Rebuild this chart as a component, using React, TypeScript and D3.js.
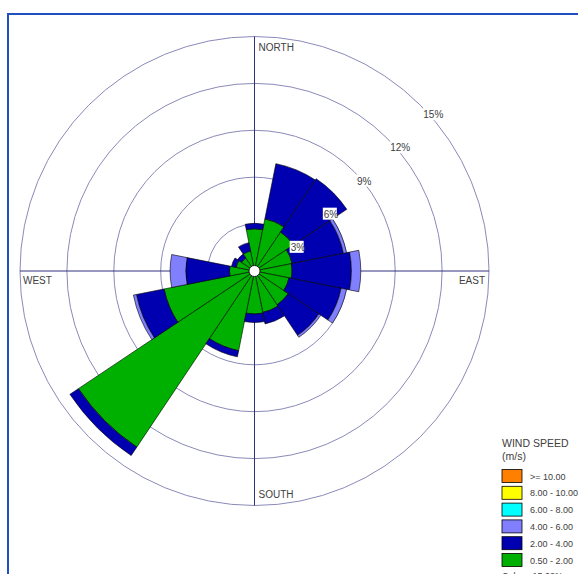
import React from "react";
import * as d3 from "d3";

// 16 compass sectors, clockwise from north
const directions = ["N", "NNE", "NE", "ENE", "E", "ESE", "SE", "SSE", "S", "SSW", "SW", "WSW", "W", "WNW", "NW", "NNW"];
// frequency (%) per speed class
const speed05to2 = [2.7, 3.4, 3.0, 2.45, 2.4, 2.25, 2.6, 2.7, 2.75, 5.2, 13.55, 5.9, 1.6, 1.2, 1.0, 1.3];
const speed2to4 = [0.35, 3.6, 4.1, 3.35, 3.8, 3.4, 2.35, 0.75, 0.55, 0.4, 0.65, 1.8, 2.8, 0.3, 0.3, 0.55];
const speed4to6 = [0, 0, 0, 0.2, 0.6, 0.35, 0.15, 0, 0, 0, 0, 0.2, 1.0, 0, 0, 0];
const speed6to8 = [0, 0, 0, 0, 0, 0, 0, 0, 0, 0, 0, 0, 0, 0, 0, 0];
const speed8to10 = [0, 0, 0, 0, 0, 0, 0, 0, 0, 0, 0, 0, 0, 0, 0, 0];
const speed10up = [0, 0, 0, 0, 0, 0, 0, 0, 0, 0, 0, 0, 0, 0, 0, 0];

const ringTicks = [3, 6, 9, 12, 15];
const legendLabels = [">= 10.00", "8.00 - 10.00", "6.00 - 8.00", "4.00 - 6.00", "2.00 - 4.00", "0.50 - 2.00"];
const legendColors = ["#ff8000", "#ffff00", "#00ffff", "#8080ff", "#0000b0", "#00b000"];
const calmsLabel = "Calms: 15.02%";

export default function App() {
  const width = 578;
  const height = 574;
  const cx = 254.5;
  const cy = 271;

  const r = d3.scaleLinear().domain([0, 15]).range([0, 234.5]);
  const step = (2 * Math.PI) / directions.length;

  // inner-to-outer order of the stack
  const series = [speed05to2, speed2to4, speed4to6, speed6to8, speed8to10, speed10up];
  const colors = ["#00b000", "#0000b0", "#8080ff", "#00ffff", "#ffff00", "#ff8000"];

  const rows = directions.map((d, i) => {
    const row: any = { dir: d };
    series.forEach((s, k) => (row["k" + k] = s[i]));
    return row;
  });
  const stack = d3.stack().keys(series.map((_, k) => "k" + k))(rows);

  const arc = d3.arc();

  const font = "Arial, 'Liberation Sans', sans-serif";
  const textColor = "#404040";

  return (
    <svg width={width} height={height} style={{ position: "absolute", left: 0, top: 0, background: "#fff" }}>
      {/* frame */}
      <rect x={8} y={14} width={width + 20} height={height + 20} fill="#fff" stroke="#2050c0" strokeWidth={2} />

      <g transform={`translate(${cx},${cy})`}>
        {ringTicks.map((t) => (
          <circle key={t} r={r(t)} fill="none" stroke="#8a8ab8" strokeWidth={1} />
        ))}
        <line x1={0} x2={0} y1={-r(15)} y2={r(15)} stroke="#303080" strokeWidth={1} />
        <line x1={-r(15)} x2={r(15)} y1={0} y2={0} stroke="#303080" strokeWidth={1} />

        {stack.map((layer, k) =>
          layer.map((seg, i) => {
            if (seg[1] - seg[0] <= 0) return null;
            const a = i * step;
            const path = arc({
              innerRadius: r(seg[0]),
              outerRadius: r(seg[1]),
              startAngle: a - step / 2,
              endAngle: a + step / 2,
            } as any);
            return <path key={k + "-" + i} d={path || ""} fill={colors[k]} stroke="#000" strokeWidth={0.6} />;
          })
        )}

        <circle r={5.5} fill="#fff" stroke="#000" strokeWidth={0.8} />

        {ringTicks.map((t) => {
          const x = r(t) * Math.SQRT1_2 + 3;
          const y = -r(t) * Math.SQRT1_2 + 13;
          const label = t + "%";
          const w = label.length * 6 + 2;
          return (
            <g key={"l" + t}>
              <rect x={x - 1} y={y - 10} width={w} height={12} fill="#fff" />
              <text x={x} y={y} fontSize={10} fontFamily={font} fill={textColor}>
                {label}
              </text>
            </g>
          );
        })}
      </g>

      {/* compass labels */}
      <text x={cx + 4} y={cy - r(15) + 14} fontSize={10} fontFamily={font} fill={textColor}>NORTH</text>
      <text x={cx + 4} y={cy + r(15) - 8} fontSize={10} fontFamily={font} fill={textColor}>SOUTH</text>
      <text x={cx - r(15) + 3} y={cy + 13} fontSize={10} fontFamily={font} fill={textColor}>WEST</text>
      <text x={cx + r(15) - 4} y={cy + 13} fontSize={10} fontFamily={font} fill={textColor} textAnchor="end">EAST</text>

      {/* legend */}
      <g fontFamily={font} fill={textColor}>
        <text x={502} y={447} fontSize={10.5}>WIND SPEED</text>
        <text x={502} y={460} fontSize={10.5}>(m/s)</text>
        {legendLabels.map((lab, i) => (
          <g key={lab} transform={`translate(502,${469.5 + i * 16.8})`}>
            <rect width={20} height={13} fill={legendColors[i]} stroke="#000" strokeWidth={0.8} />
            <text x={28} y={10} fontSize={9}>{lab}</text>
          </g>
        ))}
        <text x={502} y={579} fontSize={9}>{calmsLabel}</text>
      </g>
    </svg>
  );
}
